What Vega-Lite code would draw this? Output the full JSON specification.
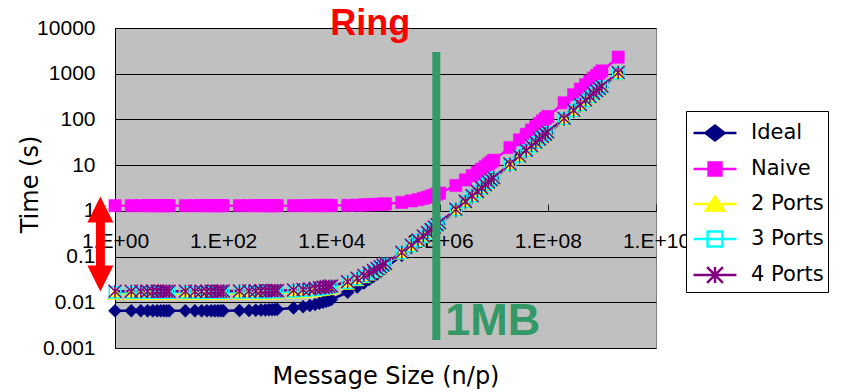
{
  "$schema": "https://vega.github.io/schema/vega-lite/v6.json",
  "width": 541,
  "height": 320,
  "autosize": {"type": "none"},
  "padding": {"left": 115, "top": 28, "right": 186, "bottom": 44},
  "background": "white",
  "config": {
    "view": {"fill": "#C0C0C0", "stroke": "#808080", "strokeWidth": 1}
  },
  "datasets": {
    "sim": [
      {"n": 1, "Ideal": 0.0065, "Naive": 1.3, "2 Ports": 0.0155, "3 Ports": 0.0165, "4 Ports": 0.0175},
      {"n": 2, "Ideal": 0.0065, "Naive": 1.3, "2 Ports": 0.0155, "3 Ports": 0.0165, "4 Ports": 0.0175},
      {"n": 3, "Ideal": 0.0065, "Naive": 1.3, "2 Ports": 0.0155, "3 Ports": 0.0165, "4 Ports": 0.0175},
      {"n": 4, "Ideal": 0.0065, "Naive": 1.3, "2 Ports": 0.0155, "3 Ports": 0.0165, "4 Ports": 0.0175},
      {"n": 5, "Ideal": 0.0065, "Naive": 1.3, "2 Ports": 0.0155, "3 Ports": 0.0165, "4 Ports": 0.0175},
      {"n": 6, "Ideal": 0.0065, "Naive": 1.3, "2 Ports": 0.0155, "3 Ports": 0.0165, "4 Ports": 0.0175},
      {"n": 7, "Ideal": 0.0065, "Naive": 1.3, "2 Ports": 0.0155, "3 Ports": 0.0165, "4 Ports": 0.0175},
      {"n": 8, "Ideal": 0.0065, "Naive": 1.3, "2 Ports": 0.0155, "3 Ports": 0.0165, "4 Ports": 0.0175},
      {"n": 9, "Ideal": 0.0065, "Naive": 1.3, "2 Ports": 0.0155, "3 Ports": 0.0165, "4 Ports": 0.0175},
      {"n": 10, "Ideal": 0.0065, "Naive": 1.3, "2 Ports": 0.0155, "3 Ports": 0.0165, "4 Ports": 0.0175},
      {"n": 20, "Ideal": 0.0065, "Naive": 1.3, "2 Ports": 0.0155, "3 Ports": 0.0165, "4 Ports": 0.0175},
      {"n": 30, "Ideal": 0.0065, "Naive": 1.3, "2 Ports": 0.0155, "3 Ports": 0.0165, "4 Ports": 0.0175},
      {"n": 40, "Ideal": 0.0065, "Naive": 1.3, "2 Ports": 0.0155, "3 Ports": 0.0165, "4 Ports": 0.0175},
      {"n": 50, "Ideal": 0.0065, "Naive": 1.3, "2 Ports": 0.0155, "3 Ports": 0.0165, "4 Ports": 0.0175},
      {"n": 60, "Ideal": 0.0065, "Naive": 1.3, "2 Ports": 0.0155, "3 Ports": 0.0165, "4 Ports": 0.0175},
      {"n": 70, "Ideal": 0.0065, "Naive": 1.3, "2 Ports": 0.0155, "3 Ports": 0.0165, "4 Ports": 0.0175},
      {"n": 80, "Ideal": 0.0065, "Naive": 1.3, "2 Ports": 0.0155, "3 Ports": 0.0165, "4 Ports": 0.0175},
      {"n": 90, "Ideal": 0.0065, "Naive": 1.3, "2 Ports": 0.0155, "3 Ports": 0.0165, "4 Ports": 0.0175},
      {"n": 100, "Ideal": 0.00655, "Naive": 1.3, "2 Ports": 0.0156, "3 Ports": 0.0166, "4 Ports": 0.0176},
      {"n": 200, "Ideal": 0.0066, "Naive": 1.3, "2 Ports": 0.0156, "3 Ports": 0.0166, "4 Ports": 0.0176},
      {"n": 300, "Ideal": 0.00665, "Naive": 1.3, "2 Ports": 0.0157, "3 Ports": 0.0167, "4 Ports": 0.0177},
      {"n": 400, "Ideal": 0.0067, "Naive": 1.3, "2 Ports": 0.0157, "3 Ports": 0.0167, "4 Ports": 0.0177},
      {"n": 500, "Ideal": 0.00675, "Naive": 1.3, "2 Ports": 0.0158, "3 Ports": 0.0168, "4 Ports": 0.0178},
      {"n": 600, "Ideal": 0.0068, "Naive": 1.3, "2 Ports": 0.0158, "3 Ports": 0.0168, "4 Ports": 0.0178},
      {"n": 700, "Ideal": 0.00685, "Naive": 1.3, "2 Ports": 0.0159, "3 Ports": 0.0169, "4 Ports": 0.0179},
      {"n": 800, "Ideal": 0.0069, "Naive": 1.3, "2 Ports": 0.0159, "3 Ports": 0.0169, "4 Ports": 0.0179},
      {"n": 900, "Ideal": 0.00695, "Naive": 1.3, "2 Ports": 0.016, "3 Ports": 0.017, "4 Ports": 0.018},
      {"n": 1000, "Ideal": 0.007, "Naive": 1.3, "2 Ports": 0.016, "3 Ports": 0.017, "4 Ports": 0.018},
      {"n": 2000, "Ideal": 0.0075, "Naive": 1.3, "2 Ports": 0.0165, "3 Ports": 0.0175, "4 Ports": 0.0186},
      {"n": 3000, "Ideal": 0.008, "Naive": 1.3, "2 Ports": 0.017, "3 Ports": 0.0181, "4 Ports": 0.0191},
      {"n": 4000, "Ideal": 0.0085, "Naive": 1.3, "2 Ports": 0.0175, "3 Ports": 0.0186, "4 Ports": 0.0196},
      {"n": 5000, "Ideal": 0.009, "Naive": 1.31, "2 Ports": 0.0181, "3 Ports": 0.0191, "4 Ports": 0.0202},
      {"n": 6000, "Ideal": 0.0095, "Naive": 1.31, "2 Ports": 0.0186, "3 Ports": 0.0196, "4 Ports": 0.0207},
      {"n": 7000, "Ideal": 0.01, "Naive": 1.31, "2 Ports": 0.0191, "3 Ports": 0.0201, "4 Ports": 0.0212},
      {"n": 8000, "Ideal": 0.0105, "Naive": 1.31, "2 Ports": 0.0196, "3 Ports": 0.0207, "4 Ports": 0.0217},
      {"n": 9000, "Ideal": 0.011, "Naive": 1.31, "2 Ports": 0.0201, "3 Ports": 0.0212, "4 Ports": 0.0223},
      {"n": 10000, "Ideal": 0.0115, "Naive": 1.31, "2 Ports": 0.0206, "3 Ports": 0.0217, "4 Ports": 0.0228},
      {"n": 20000, "Ideal": 0.0165, "Naive": 1.32, "2 Ports": 0.0257, "3 Ports": 0.0269, "4 Ports": 0.0281},
      {"n": 30000, "Ideal": 0.0215, "Naive": 1.33, "2 Ports": 0.0308, "3 Ports": 0.0321, "4 Ports": 0.0334},
      {"n": 40000, "Ideal": 0.0265, "Naive": 1.35, "2 Ports": 0.0359, "3 Ports": 0.0373, "4 Ports": 0.0387},
      {"n": 50000, "Ideal": 0.0315, "Naive": 1.36, "2 Ports": 0.041, "3 Ports": 0.0425, "4 Ports": 0.044},
      {"n": 60000, "Ideal": 0.0365, "Naive": 1.37, "2 Ports": 0.0461, "3 Ports": 0.0477, "4 Ports": 0.0493},
      {"n": 70000, "Ideal": 0.0415, "Naive": 1.38, "2 Ports": 0.0512, "3 Ports": 0.0529, "4 Ports": 0.0546},
      {"n": 80000, "Ideal": 0.0465, "Naive": 1.39, "2 Ports": 0.0563, "3 Ports": 0.0581, "4 Ports": 0.0599},
      {"n": 90000, "Ideal": 0.0515, "Naive": 1.4, "2 Ports": 0.0614, "3 Ports": 0.0633, "4 Ports": 0.0652},
      {"n": 100000, "Ideal": 0.0565, "Naive": 1.42, "2 Ports": 0.0665, "3 Ports": 0.0685, "4 Ports": 0.0705},
      {"n": 200000, "Ideal": 0.1065, "Naive": 1.53, "2 Ports": 0.118, "3 Ports": 0.121, "4 Ports": 0.124},
      {"n": 300000, "Ideal": 0.157, "Naive": 1.65, "2 Ports": 0.169, "3 Ports": 0.173, "4 Ports": 0.177},
      {"n": 400000, "Ideal": 0.207, "Naive": 1.76, "2 Ports": 0.22, "3 Ports": 0.225, "4 Ports": 0.23},
      {"n": 500000, "Ideal": 0.257, "Naive": 1.88, "2 Ports": 0.271, "3 Ports": 0.277, "4 Ports": 0.283},
      {"n": 600000, "Ideal": 0.307, "Naive": 1.99, "2 Ports": 0.322, "3 Ports": 0.329, "4 Ports": 0.336},
      {"n": 700000, "Ideal": 0.357, "Naive": 2.11, "2 Ports": 0.373, "3 Ports": 0.381, "4 Ports": 0.389},
      {"n": 800000, "Ideal": 0.407, "Naive": 2.22, "2 Ports": 0.424, "3 Ports": 0.433, "4 Ports": 0.442},
      {"n": 900000, "Ideal": 0.457, "Naive": 2.34, "2 Ports": 0.475, "3 Ports": 0.485, "4 Ports": 0.495},
      {"n": 1000000, "Ideal": 0.507, "Naive": 2.45, "2 Ports": 0.526, "3 Ports": 0.537, "4 Ports": 0.548},
      {"n": 2000000, "Ideal": 1.01, "Naive": 3.6, "2 Ports": 1.04, "3 Ports": 1.06, "4 Ports": 1.08},
      {"n": 3000000, "Ideal": 1.51, "Naive": 4.75, "2 Ports": 1.55, "3 Ports": 1.58, "4 Ports": 1.61},
      {"n": 4000000, "Ideal": 2.01, "Naive": 5.9, "2 Ports": 2.06, "3 Ports": 2.1, "4 Ports": 2.14},
      {"n": 5000000, "Ideal": 2.51, "Naive": 7.05, "2 Ports": 2.57, "3 Ports": 2.62, "4 Ports": 2.67},
      {"n": 6000000, "Ideal": 3.01, "Naive": 8.2, "2 Ports": 3.08, "3 Ports": 3.14, "4 Ports": 3.2},
      {"n": 7000000, "Ideal": 3.51, "Naive": 9.35, "2 Ports": 3.59, "3 Ports": 3.66, "4 Ports": 3.73},
      {"n": 8000000, "Ideal": 4.01, "Naive": 10.5, "2 Ports": 4.1, "3 Ports": 4.18, "4 Ports": 4.26},
      {"n": 9000000, "Ideal": 4.51, "Naive": 11.7, "2 Ports": 4.61, "3 Ports": 4.7, "4 Ports": 4.79},
      {"n": 10000000, "Ideal": 5.01, "Naive": 12.8, "2 Ports": 5.12, "3 Ports": 5.22, "4 Ports": 5.32},
      {"n": 20000000, "Ideal": 10, "Naive": 24.3, "2 Ports": 10.2, "3 Ports": 10.4, "4 Ports": 10.6},
      {"n": 30000000, "Ideal": 15, "Naive": 35.8, "2 Ports": 15.3, "3 Ports": 15.6, "4 Ports": 15.9},
      {"n": 40000000, "Ideal": 20, "Naive": 47.3, "2 Ports": 20.4, "3 Ports": 20.8, "4 Ports": 21.2},
      {"n": 50000000, "Ideal": 25, "Naive": 58.8, "2 Ports": 25.5, "3 Ports": 26, "4 Ports": 26.5},
      {"n": 60000000, "Ideal": 30, "Naive": 70.3, "2 Ports": 30.6, "3 Ports": 31.2, "4 Ports": 31.8},
      {"n": 70000000, "Ideal": 35, "Naive": 81.8, "2 Ports": 35.7, "3 Ports": 36.4, "4 Ports": 37.1},
      {"n": 80000000, "Ideal": 40, "Naive": 93.3, "2 Ports": 40.8, "3 Ports": 41.6, "4 Ports": 42.4},
      {"n": 90000000, "Ideal": 45, "Naive": 105, "2 Ports": 45.9, "3 Ports": 46.8, "4 Ports": 47.7},
      {"n": 100000000, "Ideal": 50, "Naive": 116, "2 Ports": 51, "3 Ports": 52, "4 Ports": 53},
      {"n": 200000000, "Ideal": 100, "Naive": 231, "2 Ports": 102, "3 Ports": 104, "4 Ports": 106},
      {"n": 300000000, "Ideal": 150, "Naive": 346, "2 Ports": 153, "3 Ports": 156, "4 Ports": 159},
      {"n": 400000000, "Ideal": 200, "Naive": 461, "2 Ports": 204, "3 Ports": 208, "4 Ports": 212},
      {"n": 500000000, "Ideal": 250, "Naive": 576, "2 Ports": 255, "3 Ports": 260, "4 Ports": 265},
      {"n": 600000000, "Ideal": 300, "Naive": 691, "2 Ports": 306, "3 Ports": 312, "4 Ports": 318},
      {"n": 700000000, "Ideal": 350, "Naive": 806, "2 Ports": 357, "3 Ports": 364, "4 Ports": 371},
      {"n": 800000000, "Ideal": 400, "Naive": 921, "2 Ports": 408, "3 Ports": 416, "4 Ports": 424},
      {"n": 900000000, "Ideal": 450, "Naive": 1036, "2 Ports": 459, "3 Ports": 468, "4 Ports": 477},
      {"n": 1000000000, "Ideal": 500, "Naive": 1151, "2 Ports": 510, "3 Ports": 520, "4 Ports": 530},
      {"n": 2000000000, "Ideal": 1000, "Naive": 2301, "2 Ports": 1020, "3 Ports": 1040, "4 Ports": 1060}
    ]
  },
  "data": {"name": "sim"},
  "encoding": {
    "x": {
      "field": "n",
      "type": "quantitative",
      "scale": {"type": "log", "domain": [1, 10000000000], "nice": false},
      "axis": {
        "values": [1, 100, 10000, 1000000, 100000000, 10000000000],
        "labelExpr": "'1.E+' + (datum.value < 10 ? '00' : datum.value < 1e9 ? '0' + format(log(datum.value)/LN10, '.0f') : format(log(datum.value)/LN10, '.0f'))",
        "offset": -137,
        "grid": false,
        "ticks": true,
        "tickSize": -7,
        "tickColor": "#222222",
        "domainColor": "black",
        "labelFont": "Liberation Sans",
        "labelFontSize": 21,
        "labelColor": "black",
        "labelPadding": 26,
        "labelFlush": false,
        "labelOverlap": false,
        "title": "Message Size (n/p)",
        "titleFont": "DejaVu Sans",
        "titleFontSize": 24,
        "titleFontWeight": "normal",
        "titleColor": "black",
        "titleX": 270.5,
        "titleY": 165,
        "titleBaseline": "middle"
      }
    },
    "y": {
      "field": "t",
      "type": "quantitative",
      "scale": {"type": "log", "domain": [0.001, 10000], "nice": false},
      "axis": {
        "values": [0.001, 0.01, 0.1, 1, 10, 100, 1000, 10000],
        "format": "~g",
        "grid": true,
        "gridColor": "black",
        "gridWidth": 1,
        "gridOpacity": 1,
        "ticks": false,
        "domainColor": "black",
        "labelFont": "Liberation Sans",
        "labelFontSize": 21,
        "labelColor": "black",
        "labelPadding": 20,
        "labelFlush": false,
        "labelOverlap": false,
        "title": "Time (s)",
        "titleFont": "DejaVu Sans",
        "titleFontSize": 24,
        "titleFontWeight": "normal",
        "titleColor": "black",
        "titleX": -85,
        "titleY": 156,
        "titleAngle": -90,
        "titleAlign": "center",
        "titleBaseline": "middle"
      }
    }
  },
  "layer": [
    {
      "transform": [{"fold": ["Ideal", "Naive", "2 Ports", "3 Ports", "4 Ports"], "as": ["series", "t"]}],
      "mark": {"type": "line", "strokeWidth": 2.5},
      "encoding": {
        "stroke": {
          "field": "series",
          "type": "nominal",
          "scale": {
            "domain": ["Ideal", "Naive", "2 Ports", "3 Ports", "4 Ports"],
            "range": ["#000080", "#FF00FF", "#FFFF00", "#00FFFF", "#800080"]
          },
          "legend": {
            "title": null,
            "orient": "none",
            "legendX": 571,
            "legendY": 83,
            "fillColor": "white",
            "strokeColor": "black",
            "padding": 4,
            "cornerRadius": 0,
            "symbolSize": 1089,
            "symbolStrokeWidth": 2.5,
            "symbolOffset": 7,
            "labelOffset": 18,
            "labelFont": "DejaVu Sans",
            "labelFontSize": 21,
            "labelColor": "black",
            "rowPadding": 5,
            "encode": {
              "symbols": {
                "update": {
                  "shape": {"signal": "datum.value === 'Ideal' ? 'M-1.3,0H1.3M-0.58,0L0,-0.45L0.58,0L0,0.45Z' : datum.value === 'Naive' ? 'M-1.3,0H1.3M-0.39,-0.39H0.39V0.39H-0.39Z' : datum.value === '2 Ports' ? 'M-1.3,0H1.3M0,-0.45L0.55,0.39L-0.55,0.39Z' : datum.value === '3 Ports' ? 'M-1.3,0H1.3M-0.45,-0.45H0.45V0.45H-0.45Z' : 'M-1.3,0H1.3M-0.48,-0.48L0.48,0.48M-0.48,0.48L0.48,-0.48M0,-0.48V0.48'"},
                  "fill": {"signal": "datum.value === 'Ideal' ? '#000080' : datum.value === 'Naive' ? '#FF00FF' : datum.value === '2 Ports' ? '#FFFF00' : datum.value === '3 Ports' ? 'white' : 'transparent'"},
                  "strokeWidth": {"value": 2.5},
                  "opacity": {"value": 1}
                }
              }
            }
          }
        }
      }
    },
    {
      "transform": [{"fold": ["Ideal"], "as": ["series", "t"]}],
      "mark": {"type": "point", "shape": "diamond", "filled": true, "fill": "#000080", "stroke": "#000080", "strokeWidth": 0.5, "size": 169, "opacity": 1}
    },
    {
      "transform": [{"fold": ["Naive"], "as": ["series", "t"]}],
      "mark": {"type": "point", "shape": "square", "filled": true, "fill": "#FF00FF", "stroke": "#FF00FF", "strokeWidth": 0.5, "size": 150, "opacity": 1}
    },
    {
      "transform": [{"fold": ["2 Ports"], "as": ["series", "t"]}],
      "mark": {"type": "point", "shape": "triangle-up", "filled": true, "fill": "#FFFF00", "stroke": "#FFFF00", "strokeWidth": 0.5, "size": 190, "opacity": 1}
    },
    {
      "transform": [{"fold": ["3 Ports"], "as": ["series", "t"]}],
      "mark": {"type": "point", "shape": "square", "filled": false, "fill": "transparent", "stroke": "#00FFFF", "strokeWidth": 1.5, "size": 130, "opacity": 1}
    },
    {
      "transform": [{"fold": ["4 Ports"], "as": ["series", "t"]}],
      "mark": {"type": "point", "shape": "M-1,-1L1,1M-1,1L1,-1M0,-1L0,1", "filled": false, "fill": "transparent", "stroke": "#800080", "strokeWidth": 1.5, "size": 169, "opacity": 1}
    },
    {
      "data": {"values": [{"n": 870000, "t": 3000, "t2": 0.0015}]},
      "mark": {"type": "rule", "color": "#339966", "strokeWidth": 8},
      "encoding": {"y2": {"field": "t2"}}
    },
    {
      "data": {"values": [{"n": 1270000, "t": 0.0019, "label": "1MB"}]},
      "mark": {"type": "text", "align": "left", "baseline": "alphabetic", "font": "Liberation Sans", "fontWeight": "bold", "fontSize": 45, "color": "#339966"},
      "encoding": {"text": {"field": "label"}}
    },
    {
      "data": {"values": [{"n": 52000, "t": 7060, "label": "Ring"}]},
      "mark": {"type": "text", "align": "center", "baseline": "alphabetic", "font": "Liberation Sans", "fontWeight": "bold", "fontSize": 36, "color": "#FF0000"},
      "encoding": {"text": {"field": "label"}}
    },
    {
      "data": {"values": [{"n": 0.537, "t": 0.81, "t2": 0.046}]},
      "mark": {"type": "rule", "color": "#FF0000", "strokeWidth": 9},
      "encoding": {"y2": {"field": "t2"}}
    },
    {
      "data": {"values": [{"n": 0.537, "t": 1.07}]},
      "mark": {"type": "point", "shape": "M0,-1L1,1L-1,1Z", "filled": true, "fill": "#FF0000", "strokeWidth": 0, "size": 676, "opacity": 1}
    },
    {
      "data": {"values": [{"n": 0.537, "t": 0.0332}]},
      "mark": {"type": "point", "shape": "M0,1L1,-1L-1,-1Z", "filled": true, "fill": "#FF0000", "strokeWidth": 0, "size": 676, "opacity": 1}
    }
  ]
}
